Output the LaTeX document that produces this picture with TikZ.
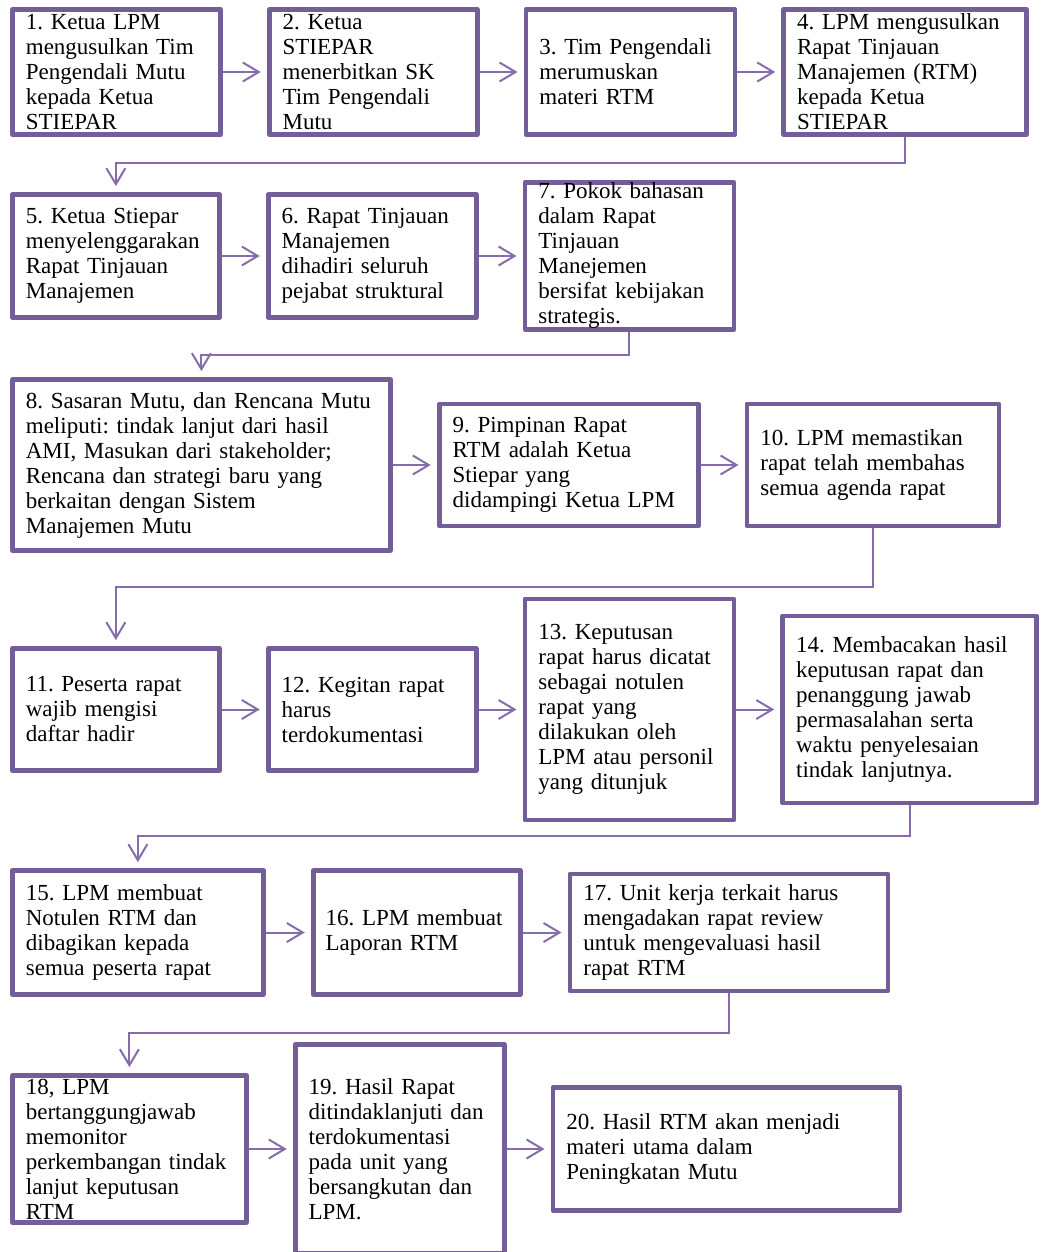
\documentclass[tikz,border=0pt]{standalone}
\usepackage{fontspec}
\setmainfont{Liberation Serif}
\usetikzlibrary{positioning, arrows.meta}
\definecolor{boxline}{RGB}{116,94,152}
\definecolor{flowline}{RGB}{134,108,172}
\frenchspacing
\hyphenpenalty=10000

\begin{document}
\begin{tikzpicture}[x=1pt, y=1pt, node distance=44pt,
    >={Straight Barb[length=16pt,width=19pt]},
    stepbox/.style={draw=boxline, line width=4.75pt, line join=round, fill=white,
      inner sep=0pt, align=left, font=\fontsize{23}{25}\selectfont},
    flow/.style={->, draw=flowline, line width=2pt, shorten >=6pt}]
  \useasboundingbox (0,0) rectangle (1043,-1252);
  \clip (0,0) rectangle (1043,-1252);

  % row 1
  \node[stepbox, minimum width=208pt, minimum height=125pt, text width=181pt, anchor=west] (b1) at (10,-72)
    {1. Ketua LPM\\ mengusulkan Tim\\ Pengendali Mutu\\ kepada Ketua\\ STIEPAR};
  \node[stepbox, minimum width=208pt, minimum height=125pt, text width=181pt] (b2) [right=of b1]
    {2. Ketua\\ STIEPAR\\ menerbitkan SK\\ Tim Pengendali\\ Mutu};
  \node[stepbox, minimum width=209pt, minimum height=125pt, text width=182pt] (b3) [right=of b2]
    {3. Tim Pengendali\\ merumuskan\\ materi RTM};
  \node[stepbox, minimum width=243pt, minimum height=125pt, text width=216pt] (b4) [right=of b3]
    {4. LPM mengusulkan\\ Rapat Tinjauan\\ Manajemen (RTM)\\ kepada Ketua\\ STIEPAR};

  % row 2
  \node[stepbox, minimum width=207pt, minimum height=123pt, text width=180pt, anchor=west] (b5) at (10,-256)
    {5. Ketua Stiepar\\ menyelenggarakan\\ Rapat Tinjauan\\ Manajemen};
  \node[stepbox, minimum width=208pt, minimum height=123pt, text width=181pt] (b6) [right=of b5]
    {6. Rapat Tinjauan\\ Manajemen\\ dihadiri seluruh\\ pejabat struktural};
  \node[stepbox, minimum width=209pt, minimum height=147pt, text width=182pt] (b7) [right=of b6]
    {7. Pokok bahasan\\ dalam Rapat\\ Tinjauan\\ Manejemen\\ bersifat kebijakan\\ strategis.};

  % row 3
  \node[stepbox, minimum width=378pt, minimum height=171pt, text width=351pt, anchor=west] (b8) at (10,-465)
    {8. Sasaran Mutu, dan Rencana Mutu\\ meliputi: tindak lanjut dari hasil\\ AMI, Masukan dari stakeholder;\\ Rencana dan strategi baru yang\\ berkaitan dengan Sistem\\ Manajemen Mutu};
  \node[stepbox, minimum width=259pt, minimum height=122pt, text width=232pt] (b9) [right=of b8]
    {9. Pimpinan Rapat\\ RTM adalah Ketua\\ Stiepar yang\\ didampingi Ketua LPM};
  \node[stepbox, minimum width=252pt, minimum height=122pt, text width=225pt] (b10) [right=of b9]
    {10. LPM memastikan\\ rapat telah membahas\\ semua agenda rapat};

  % row 4
  \node[stepbox, minimum width=207pt, minimum height=122pt, text width=180pt, anchor=west] (b11) at (10,-709.5)
    {11. Peserta rapat\\ wajib mengisi\\ daftar hadir};
  \node[stepbox, minimum width=208pt, minimum height=122pt, text width=181pt] (b12) [right=of b11]
    {12. Kegitan rapat\\ harus\\ terdokumentasi};
  \node[stepbox, minimum width=209pt, minimum height=221pt, text width=182pt] (b13) [right=of b12]
    {13. Keputusan\\ rapat harus dicatat\\ sebagai notulen\\ rapat yang\\ dilakukan oleh\\ LPM atau personil\\ yang ditunjuk};
  \node[stepbox, minimum width=254pt, minimum height=187pt, text width=227pt] (b14) [right=of b13]
    {14. Membacakan hasil\\ keputusan rapat dan\\ penanggung jawab\\ permasalahan serta\\ waktu penyelesaian\\ tindak lanjutnya.};

  % row 5
  \node[stepbox, minimum width=251pt, minimum height=124pt, text width=224pt, anchor=west] (b15) at (10,-932.5)
    {15. LPM membuat\\ Notulen RTM dan\\ dibagikan kepada\\ semua peserta rapat};
  \node[stepbox, minimum width=207pt, minimum height=124pt, text width=182pt] (b16) [right=45pt of b15]
    {16. LPM membuat\\ Laporan RTM};
  \node[stepbox, minimum width=318pt, minimum height=117pt, text width=291pt] (b17) [right=45pt of b16]
    {17. Unit kerja terkait harus\\ mengadakan rapat review\\ untuk mengevaluasi hasil\\ rapat RTM};

  % row 6
  \node[stepbox, minimum width=234pt, minimum height=147pt, text width=207pt, anchor=west] (b18) at (10,-1149)
    {18, LPM\\ bertanggungjawab\\ memonitor\\ perkembangan tindak\\ lanjut keputusan\\ RTM};
  \node[stepbox, minimum width=209pt, minimum height=209pt, text width=182pt] (b19) [right=of b18]
    {19. Hasil Rapat\\ ditindaklanjuti dan\\ terdokumentasi\\ pada unit yang\\ bersangkutan dan\\ LPM.};
  \node[stepbox, minimum width=347pt, minimum height=123pt, text width=320pt] (b20) [right=of b19]
    {20. Hasil RTM akan menjadi\\ materi utama dalam\\ Peningkatan Mutu};

  \path[flow] (b1) edge (b2)
        (b2) edge (b3)
        (b3) edge (b4)
        (b5) edge (b6)
        (b6) edge (b7)
        (b8) edge (b9)
        (b9) edge (b10)
        (b11) edge (b12)
        (b12) edge (b13)
        (b13) edge (b14)
        (b15) edge (b16)
        (b16) edge (b17)
        (b18) edge (b19)
        (b19) edge (b20)
        ;

  % going down to the next row
  \draw[flow] (b4.south) -- ++(0,-26) -| (b5.north);
  \draw[flow] (b7.south) -- ++(0,-23) -| (b8.north);
  \draw[flow] (b10.south) -- ++(0,-59) -| (b11.north);
  \draw[flow] (b14.south) -- ++(0,-31) -| (b15.north);
  \draw[flow] (b17.south) -- ++(0,-40) -| (b18.north);
\end{tikzpicture}
\end{document}
